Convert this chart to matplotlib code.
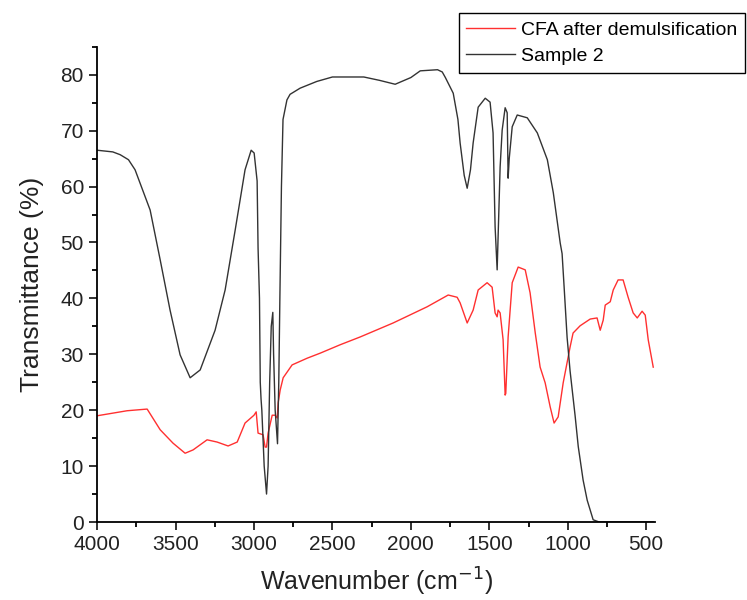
import matplotlib
matplotlib.use('Agg')
import matplotlib.pyplot as plt
from matplotlib.ticker import MultipleLocator

plt.rcParams['font.family'] = ['Liberation Sans', 'DejaVu Sans']

# Sample 2 (black)
w_s2 = [4000, 3900, 3853, 3800, 3758, 3662, 3598, 3535, 3471, 3407, 3343, 3248, 3184, 3120,
        3057, 3018, 2999, 2980, 2974, 2965, 2960, 2955, 2950, 2935, 2920, 2910,
        2900, 2890, 2880, 2875, 2865, 2850, 2842, 2835, 2825, 2815, 2790, 2770,
        2706, 2600, 2500, 2300, 2200, 2100, 2000, 1940, 1830, 1800, 1780, 1730, 1700,
        1686, 1660, 1641, 1620, 1603, 1571, 1526, 1495, 1476, 1463, 1450, 1431,
        1418, 1399, 1386, 1380, 1373, 1354, 1322, 1258, 1194, 1130, 1092, 1048,
        1036, 1023, 1004, 985, 953, 933, 902, 876, 838, 800, 455]
t_s2 = [66.5, 66.2, 65.7, 64.8, 63, 55.8, 46.9, 37.9, 29.9, 25.8, 27.2, 34.3, 41.5, 52.2,
        63, 66.5, 66, 61, 49, 40, 25, 22, 20, 10, 5, 10,
        25, 35, 37.5, 30, 20, 14, 25, 40, 60, 72, 75.5, 76.5,
        77.6, 78.8, 79.6, 79.6, 79, 78.3, 79.5, 80.7, 80.9, 80.5, 79.5, 76.7, 72,
        67.8, 62, 59.7, 63, 67.8, 74.2, 75.8, 75.1, 69.6, 52.8, 45.1, 63.5,
        70.1, 74.1, 73.2, 61.5, 65, 70.7, 72.8, 72.3, 69.6, 64.8, 58.9, 49.9,
        48, 42, 33, 27, 19, 13.5, 7.5, 3.9, 0.4, 0, 0]

# CFA after demulsification (red)
w_cfa = [4000, 3809, 3681, 3598, 3516, 3439, 3388, 3299, 3235, 3165, 3107, 3057,
         3000, 2986, 2974, 2942, 2929, 2920, 2910, 2884, 2865, 2852, 2846, 2833,
         2814, 2757, 2661, 2578, 2451, 2323, 2113, 1896, 1762, 1705, 1686, 1641,
         1603, 1571, 1514, 1482, 1463, 1450, 1444, 1431, 1412, 1399, 1395, 1380,
         1354, 1316, 1271, 1240, 1207, 1176, 1144, 1112, 1087, 1061, 1029, 985,
         966, 921, 857, 813, 793, 774, 761, 729, 710, 679, 647, 615, 583, 557,
         526, 506, 487, 455]
t_cfa = [19.0, 19.9, 20.2, 16.5, 14.1, 12.3, 12.9, 14.7, 14.3, 13.6, 14.3, 17.7,
         19.1, 19.7, 15.9, 15.6, 13.4, 13.4, 15.9, 19.1, 19.1, 18.6, 21.3, 23.6,
         25.8, 28.1, 29.3, 30.2, 31.7, 33.1, 35.6, 38.5, 40.6, 40.2, 39.2, 35.6,
         37.9, 41.5, 42.8, 42.0, 37.4, 36.7, 37.9, 37.4, 32.6, 22.7, 23, 33.1,
         42.8, 45.6, 45.1, 41, 33.8, 27.7, 24.9, 20.6, 17.7, 18.8, 24.9, 31.3,
         33.8, 35.1, 36.3, 36.5, 34.3, 36.1, 38.8, 39.4, 41.5, 43.3, 43.3, 40.2, 37.4, 36.5,
         37.7, 37, 32.6, 27.7]

fig = plt.figure(figsize=(7.47, 6), dpi=100)
ax = fig.add_axes([0.130, 0.13, 0.747, 0.792])

ax.plot(w_cfa, t_cfa, color='#ff3030', lw=1.0, label='CFA after demulsification')
ax.plot(w_s2, t_s2, color='#333333', lw=1.0, label='Sample 2')

ax.set_xlim(4000, 443)
ax.set_ylim(0, 85)
ax.xaxis.set_major_locator(MultipleLocator(500))
ax.xaxis.set_minor_locator(MultipleLocator(250))
ax.yaxis.set_major_locator(MultipleLocator(10))
ax.yaxis.set_minor_locator(MultipleLocator(5))
ax.tick_params(which='major', direction='out', length=6, width=1.3, labelsize=15, colors='#222222')
ax.tick_params(which='minor', direction='out', length=3.5, width=1.3)

for s in ['top', 'right']:
    ax.spines[s].set_visible(False)
for s in ['left', 'bottom']:
    ax.spines[s].set_linewidth(1.3)

ax.set_xlabel('Wavenumber (cm$^{-1}$)', fontsize=18, color='#222222', labelpad=8)
ax.set_ylabel('Transmittance (%)', fontsize=19, color='#222222', labelpad=12)

leg = fig.legend(loc='upper right', bbox_to_anchor=(0.997, 0.978), fontsize=14,
                 frameon=True, fancybox=False, edgecolor='black', framealpha=1,
                 handlelength=2.5, handletextpad=0.3, borderpad=0.4, labelspacing=0.45,
                 borderaxespad=0)
leg.get_frame().set_linewidth(1.0)

fig.savefig('out.png', dpi=100)
